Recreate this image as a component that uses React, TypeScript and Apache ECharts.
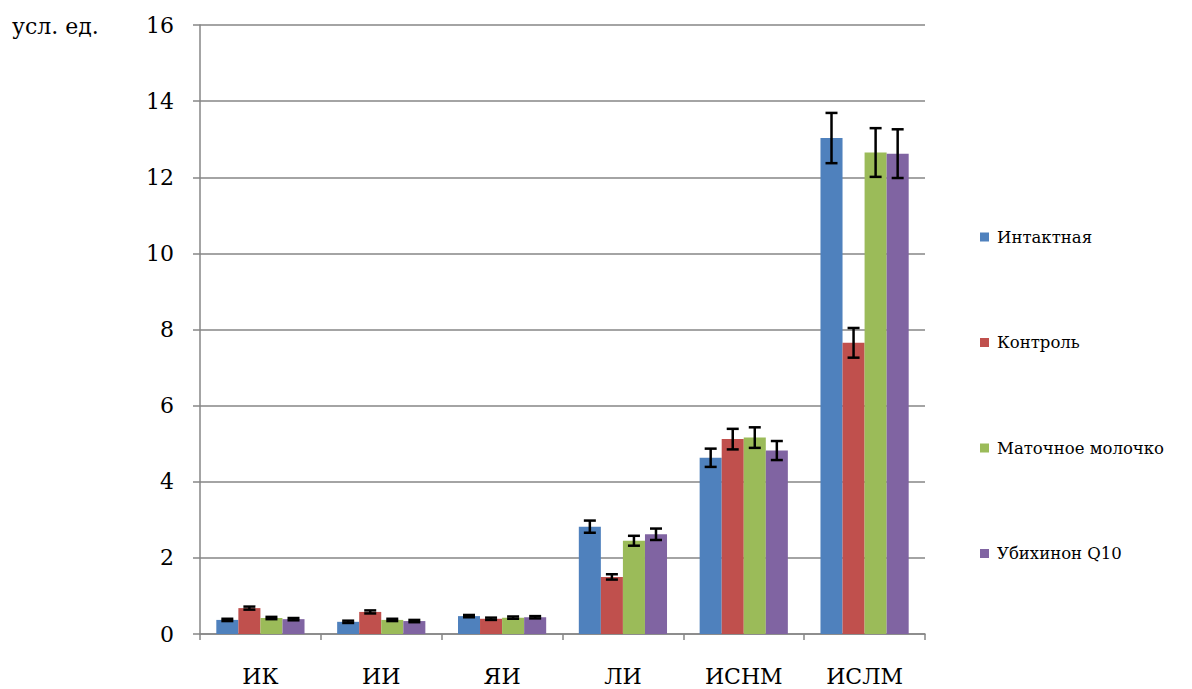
import React, { useEffect, useRef } from "react";
import * as echarts from "echarts";

const categories = ["ИК", "ИИ", "ЯИ", "ЛИ", "ИСНМ", "ИСЛМ"];
const seriesNames = ["Интактная", "Контроль", "Маточное молочко", "Убихинон Q10"];
const colors = ["#4F81BD", "#C0504D", "#9BBB59", "#8064A2"];

const intact = [0.37, 0.32, 0.47, 2.82, 4.63, 13.03];
const control = [0.68, 0.58, 0.4, 1.5, 5.12, 7.65];
const royalJelly = [0.42, 0.37, 0.43, 2.45, 5.16, 12.65];
const ubiquinone = [0.39, 0.34, 0.44, 2.62, 4.82, 12.62];

const intactErr = [0.03, 0.03, 0.03, 0.16, 0.24, 0.66];
const controlErr = [0.04, 0.04, 0.03, 0.07, 0.27, 0.39];
const royalJellyErr = [0.03, 0.03, 0.03, 0.13, 0.27, 0.64];
const ubiquinoneErr = [0.03, 0.03, 0.03, 0.15, 0.25, 0.64];

const yTicks = [0, 2, 4, 6, 8, 10, 12, 14, 16];

const values = [intact, control, royalJelly, ubiquinone];
const errors = [intactErr, controlErr, royalJellyErr, ubiquinoneErr];

const CAT_GAP = 0.27;
const FONT = "DejaVu Serif";

export default function App() {
  const ref = useRef<HTMLDivElement>(null);
  useEffect(() => {
    const chart = echarts.init(ref.current!, null, { renderer: "svg" });
    const barSeries = seriesNames.map((name, i) => ({
      name,
      type: "bar",
      data: values[i],
      barGap: "0%",
      barCategoryGap: CAT_GAP * 100 + "%",
      itemStyle: { color: colors[i] },
    }));
    const errData: number[][] = [];
    values.forEach((arr, si) =>
      arr.forEach((v, ci) => errData.push([ci, v, errors[si][ci], si]))
    );
    const errSeries = {
      type: "custom",
      name: "err",
      data: errData,
      z: 10,
      renderItem: (params: any, api: any) => {
        const ci = api.value(0);
        const v = api.value(1);
        const e = api.value(2);
        const si = api.value(3);
        const catW = api.size([1, 0])[0];
        const barW = (catW * (1 - CAT_GAP)) / 4;
        const center = api.coord([ci, v]);
        const x = center[0] + (si - 1.5) * barW;
        const hi = api.coord([ci, v + e])[1];
        const lo = api.coord([ci, v - e])[1];
        const cap = 6;
        const style = { stroke: "#000", lineWidth: 2.5 };
        return {
          type: "group",
          children: [
            { type: "line", shape: { x1: x, y1: hi, x2: x, y2: lo }, style },
            { type: "line", shape: { x1: x - cap, y1: hi, x2: x + cap, y2: hi }, style },
            { type: "line", shape: { x1: x - cap, y1: lo, x2: x + cap, y2: lo }, style },
          ],
        };
      },
    };
    chart.setOption({
      animation: false,
      backgroundColor: "#fff",
      grid: { left: 200, right: 267, top: 25, bottom: 55 },
      legend: {
        data: seriesNames,
        orient: "vertical",
        left: 975,
        top: 222,
        itemWidth: 9,
        itemHeight: 9,
        itemGap: 85.5,
        icon: "rect",
        textStyle: {
          fontFamily: FONT,
          fontSize: 16.5,
          lineHeight: 20,
          color: "#000",
          padding: [0, 0, 0, 3],
        },
      },
      xAxis: {
        type: "category",
        data: categories,
        axisLine: { lineStyle: { color: "#868686", width: 1.5 } },
        axisTick: { show: true, length: 6, lineStyle: { color: "#868686", width: 1.5 } },
        axisLabel: { fontFamily: FONT, fontSize: 22, color: "#000", margin: 31 },
      },
      yAxis: {
        type: "value",
        min: yTicks[0],
        max: yTicks[yTicks.length - 1],
        interval: 2,
        axisLine: { show: true, lineStyle: { color: "#868686", width: 1.5 } },
        axisTick: { show: true, length: 7, lineStyle: { color: "#868686", width: 1.5 } },
        splitLine: { lineStyle: { color: "#868686", width: 1.5 } },
        axisLabel: { fontFamily: FONT, fontSize: 22, color: "#000", margin: 26 },
      },
      graphic: [
        {
          type: "text",
          left: 12,
          top: 15,
          style: { text: "усл. ед.", fontFamily: FONT, fontSize: 22, fill: "#000" },
        },
      ],
      series: [...barSeries, errSeries],
    });
    return () => chart.dispose();
  }, []);
  return <div ref={ref} style={{ width: 1192, height: 689, position: "absolute", left: 0, top: 0 }} />;
}
